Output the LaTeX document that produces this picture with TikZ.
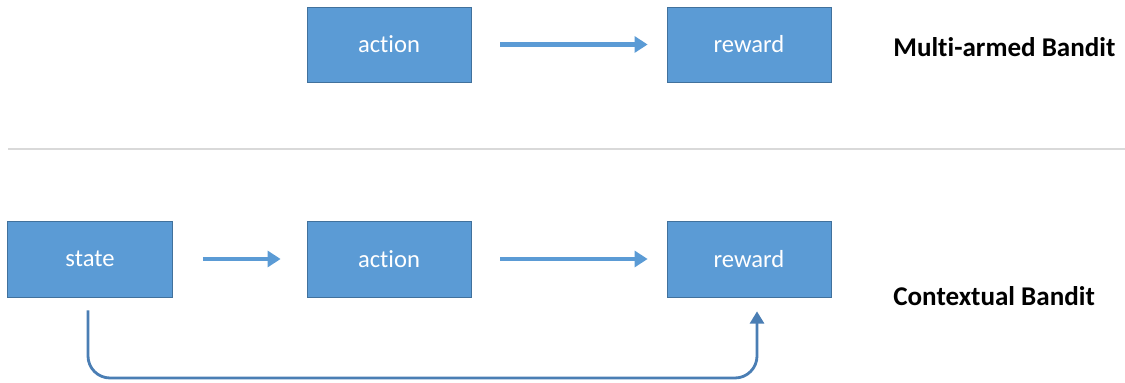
\documentclass[tikz,border=0pt]{standalone}
\usepackage{fontspec}
\setmainfont{Carlito}[Ligatures=CommonOff]
\usetikzlibrary{arrows.meta}
\definecolor{boxblue}{HTML}{5B9BD5}
\definecolor{boxedge}{HTML}{41719C}
\definecolor{backline}{HTML}{4A7EB4}
\tikzset{
	box/.style={rectangle, fill=boxblue, draw=boxedge, line width=0.4pt, minimum width=3.28cm, minimum height=1.5cm, text=white, font=\fontsize{14}{16}\selectfont},
	flow/.style={line width=2.3pt, color=boxblue, -{Triangle[length=7.4pt, width=9pt]}},
	back/.style={line width=1.6pt, color=backline, rounded corners=0.44cm, -{Triangle[length=7pt, width=8pt]}},
	title/.style={anchor=west, inner sep=0pt, font=\bfseries\fontsize{15.4}{18}\selectfont}
}
\begin{document}
\begin{tikzpicture}
			%%%%% START %%%%%
			\useasboundingbox (0, 0) rectangle (22.5, -7.66);
			
			% multi-armed bandit
			\node[box] (action1) at (7.78, -0.89) {action};
			\node[box] (reward1) at (14.98, -0.89) {reward};
			\node[title] (mab) at (17.86, -0.94) {Multi-armed Bandit};
			\draw[flow, shorten <=0.58cm, shorten >=0.38cm] (action1) -- (reward1);
			
			\draw[line width=0.5mm, color=black!15] (0.16, -2.98) -- (22.5, -2.98);
			
			% contextual bandit
			\node[box, minimum width=3.3cm, minimum height=1.52cm] (state) at (1.8, -5.18) {state};
			\node[box, minimum height=1.52cm] (action2) at (7.78, -5.18) {action};
			\node[box, minimum height=1.52cm] (reward2) at (14.98, -5.18) {reward};
			\node[title] (cb) at (17.86, -5.92) {Contextual Bandit};
			\draw[flow, shorten <=0.6cm, shorten >=0.52cm] (state) -- (action2);
			\draw[flow, shorten <=0.58cm, shorten >=0.38cm] (action2) -- (reward2);
			
			\coordinate (low) at (0, -7.56);
			\draw[back, shorten <=0.26cm, shorten >=0.28cm] ([xshift=-0.04cm]state.south) -- ([xshift=-0.04cm]state.south |- low) -- ([xshift=0.16cm]reward2.south |- low) -- ([xshift=0.16cm]reward2.south);
			%%%%% END %%%%%
		\end{tikzpicture}
\end{document}
